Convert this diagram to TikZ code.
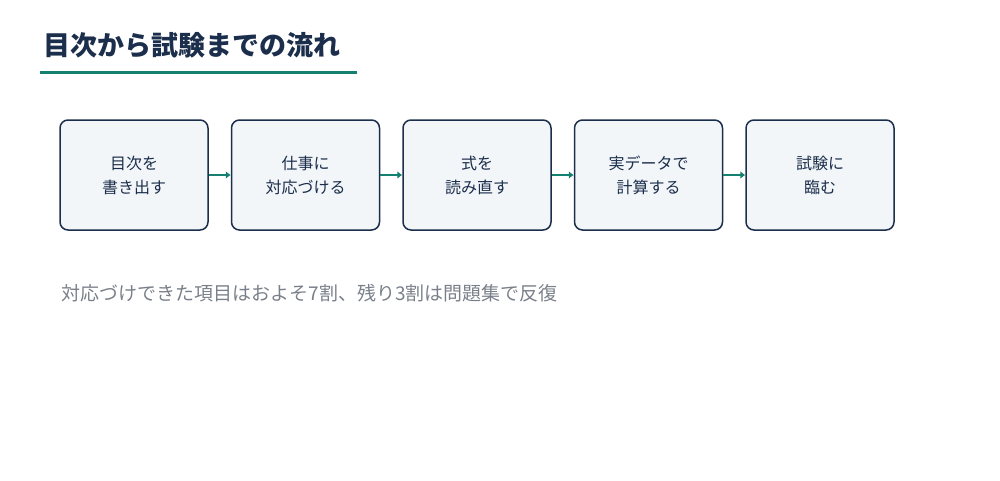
\documentclass[tikz,border=0pt]{standalone}
\usepackage{fontspec}
\setmainfont{Noto Sans CJK JP}
\usetikzlibrary{positioning,arrows.meta}
\definecolor{navy}{HTML}{1B2E4B}
\definecolor{teal}{HTML}{138070}
\definecolor{boxfill}{HTML}{F3F6F9}
\definecolor{note}{HTML}{7A808A}
\tikzset{
  stage/.style={draw=navy, line width=1.5pt, fill=boxfill, rounded corners=8pt,
    minimum width=148pt, minimum height=110pt, align=center,
    font=\fontsize{16pt}{24pt}\selectfont, text=navy},
  flow/.style={draw=teal, line width=2.5pt, -{Latex[length=5pt,width=8pt]}},
}
\begin{document}
\begin{tikzpicture}[x=1pt,y=-1pt]
  \useasboundingbox (0,0) rectangle (1000,480);
  \node[anchor=west, font=\fontsize{27pt}{32pt}\selectfont\bfseries, text=navy] (title) at (40,45) {目次から試験までの流れ};
  \draw[teal, line width=3pt] (40,72) -- (357,72);
  \node[stage] (s1) at (134,175) {目次を\\書き出す};
  \node[stage, right=22pt of s1] (s2) {仕事に\\対応づける};
  \node[stage, right=22pt of s2] (s3) {式を\\読み直す};
  \node[stage, right=22pt of s3] (s4) {実データで\\計算する};
  \node[stage, right=22pt of s4] (s5) {試験に\\臨む};
  \foreach \a/\b in {s1/s2,s2/s3,s3/s4,s4/s5}
    \draw[flow] (\a.east) -- (\b.west);
  \node[anchor=west, font=\fontsize{19pt}{24pt}\selectfont, text=note] (memo) at (58,293) {対応づけできた項目はおよそ7割、残り3割は問題集で反復};
\end{tikzpicture}
\end{document}
